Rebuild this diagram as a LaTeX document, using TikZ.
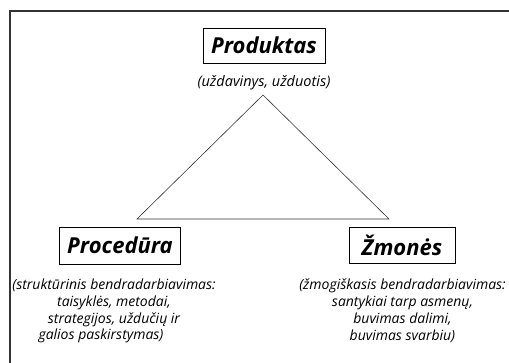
\documentclass[tikz,border=0pt]{standalone}
\usepackage{fontspec}
\setmainfont{Open Sans}
\begin{document}
\begin{tikzpicture}[x=1pt,y=-1pt,
  titlebox/.style={draw=black,line width=0.9pt,minimum width=122pt,minimum height=35pt,inner sep=0pt,font=\fontsize{22}{24}\selectfont\bfseries\itshape},
  desc/.style={font=\fontsize{14}{16.7}\selectfont\itshape,align=center,inner sep=0pt},
  tri/.style={draw=black!80,line width=0.6pt}]
\useasboundingbox (0,0) rectangle (509,363);
\draw[line width=1.3pt,draw=black!80] (10,363) -- (10,11) -- (509,11);
\node[titlebox] (prod) at (264,45.5) {Produktas};
\node[desc,font=\fontsize{14.5}{16.7}\selectfont\itshape] (prodd) at (264,83) {(uždavinys, užduotis)};
\node[titlebox,minimum width=121pt,minimum height=37pt] (proc) at (120,245.5) {Procedūra};
\node[titlebox,minimum width=106pt,minimum height=36pt] (zmon) at (402,245) {Žmonės};
\node[desc,anchor=north] (procd) at (114,279) {(struktūrinis bendradarbiavimas:\\taisyklės, metodai,\hspace*{26pt}\\strategijos, uždučių ir\hspace*{26pt}\\galios paskirstymas)\hspace*{26pt}};
\node[desc,anchor=north] (zmond) at (402.5,279) {(žmogiškasis bendradarbiavimas:\\santykiai tarp asmenų,\\buvimas dalimi,\\buvimas svarbiu)};
\coordinate (apex) at (263,95);
\coordinate (bl) at (137,219);
\coordinate (br) at (389,219);
\draw[tri] (apex) -- (bl) -- (br) -- cycle;
\end{tikzpicture}
\end{document}
